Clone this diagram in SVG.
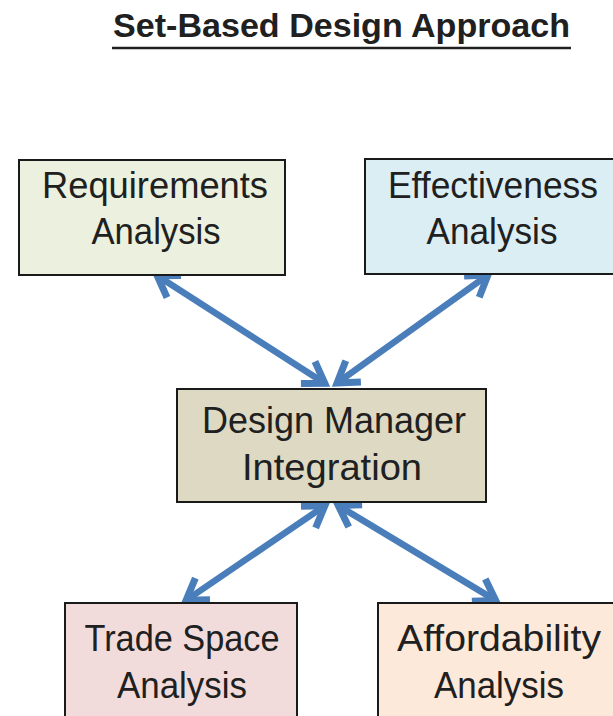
<svg xmlns="http://www.w3.org/2000/svg" width="613" height="716" viewBox="0 0 613 716">
  <style>
    .box { stroke: #1a1a1a; stroke-width: 2; }
    .lbl { font-family: "Liberation Sans", Arial, sans-serif; font-size: 36px; fill: #202020; text-anchor: middle; }
    .title { font-family: "Liberation Sans", Arial, sans-serif; font-size: 34px; font-weight: bold; fill: #202020; }
    .conn { stroke: #4A7EBB; stroke-width: 6.5; fill: none; }
  </style>
  <defs>
    <marker id="arr" markerUnits="userSpaceOnUse" orient="auto-start-reverse" viewBox="-30 -20 40 40" refX="0" refY="0" markerWidth="40" markerHeight="40">
      <path d="M -18 -13 L 2 0 L -18 13" fill="none" stroke="#4A7EBB" stroke-width="7" stroke-linejoin="miter"/>
    </marker>
  </defs>
  <rect width="613" height="716" fill="#ffffff"/>

  <g id="title">
    <text class="title" x="113" y="37" textLength="457" lengthAdjust="spacingAndGlyphs">Set-Based Design Approach</text>
    <line x1="112" y1="48" x2="571" y2="48" stroke="#202020" stroke-width="2.5"/>
  </g>

  <g id="connectors">
    <line class="conn" x1="158.9" y1="276.8" x2="323.1" y2="382.2" marker-start="url(#arr)" marker-end="url(#arr)"/>
    <line class="conn" x1="486.3" y1="276.1" x2="338.7" y2="381.9" marker-start="url(#arr)" marker-end="url(#arr)"/>
    <line class="conn" x1="323.2" y1="506.9" x2="187.8" y2="599.1" marker-start="url(#arr)" marker-end="url(#arr)"/>
    <line class="conn" x1="340" y1="506.6" x2="494" y2="599.4" marker-start="url(#arr)" marker-end="url(#arr)"/>
  </g>

  <g id="requirements">
    <rect class="box" x="19" y="160" width="266" height="115" fill="#EBF1DE"/>
    <text class="lbl" x="155" y="198" textLength="226" lengthAdjust="spacingAndGlyphs">Requirements</text>
    <text class="lbl" x="156" y="244" textLength="129" lengthAdjust="spacingAndGlyphs">Analysis</text>
  </g>

  <g id="effectiveness">
    <rect class="box" x="365" y="159" width="262" height="115" fill="#DBEEF4"/>
    <text class="lbl" x="493" y="198" textLength="210" lengthAdjust="spacingAndGlyphs">Effectiveness</text>
    <text class="lbl" x="492" y="244" textLength="131" lengthAdjust="spacingAndGlyphs">Analysis</text>
  </g>

  <g id="design-manager">
    <rect class="box" x="177" y="389" width="309" height="113" fill="#DDD9C3"/>
    <text class="lbl" x="334" y="433" textLength="264" lengthAdjust="spacingAndGlyphs">Design Manager</text>
    <text class="lbl" x="332" y="480" textLength="180" lengthAdjust="spacingAndGlyphs">Integration</text>
  </g>

  <g id="trade-space">
    <rect class="box" x="65" y="603" width="232" height="130" fill="#F2DCDB"/>
    <text class="lbl" x="182" y="651" textLength="195" lengthAdjust="spacingAndGlyphs">Trade Space</text>
    <text class="lbl" x="182" y="698" textLength="130" lengthAdjust="spacingAndGlyphs">Analysis</text>
  </g>

  <g id="affordability">
    <rect class="box" x="378" y="603" width="250" height="130" fill="#FDE9D9"/>
    <text class="lbl" x="499" y="651" textLength="204" lengthAdjust="spacingAndGlyphs">Affordability</text>
    <text class="lbl" x="499" y="698" textLength="130" lengthAdjust="spacingAndGlyphs">Analysis</text>
  </g>
</svg>
